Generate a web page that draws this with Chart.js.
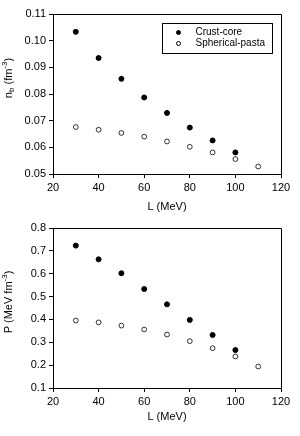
<!DOCTYPE html>
<html>
<head>
<meta charset="utf-8">
<script src="https://cdn.jsdelivr.net/npm/chart.js@4/dist/chart.umd.min.js"></script>
<style>
body { margin: 0; background: #fff; }
.panel { position: relative; width: 300px; height: 218px; }
</style>
</head>
<body>
<div class="panel"><canvas id="chartN"></canvas></div>
<div class="panel"><canvas id="chartP"></canvas></div>
<script>
// datos
var L_core = [30, 40, 50, 60, 70, 80, 90, 100];
var L_pasta = [30, 40, 50, 60, 70, 80, 90, 100, 110];
var nb_core = [0.1033, 0.0935, 0.0857, 0.0787, 0.0729, 0.0674, 0.0626, 0.0581];
var nb_pasta = [0.0676, 0.0666, 0.0654, 0.0640, 0.0622, 0.0602, 0.0581, 0.0556, 0.0528];
var P_core = [0.723, 0.663, 0.602, 0.533, 0.466, 0.398, 0.332, 0.266];
var P_pasta = [0.395, 0.387, 0.373, 0.356, 0.334, 0.305, 0.274, 0.238, 0.194];
var serieNombres = ['Crust-core', 'Spherical-pasta'];
var xTitulo = 'L (MeV)';

var fuente = 'Liberation Sans, Arial, sans-serif';

function puntos(xs, ys) {
    var d = [];
    for (var i = 0; i < xs.length; i++) {
        d.push({ x: xs[i], y: ys[i] });
    }
    return d;
}

// marco, titulo del eje y y leyenda
var dibujoPlugin = {
    id: 'dibujo',
    afterDraw: function(chart) {
        var a = chart.chartArea;
        var ctx = chart.ctx;
        var op = chart.options.plugins.dibujo;
        ctx.save();
        ctx.strokeStyle = '#000';
        ctx.lineWidth = 1;
        ctx.beginPath();
        ctx.moveTo(a.left, Math.round(a.top) + 0.5);
        ctx.lineTo(Math.round(a.right) + 0.5, Math.round(a.top) + 0.5);
        ctx.lineTo(Math.round(a.right) + 0.5, a.bottom);
        ctx.stroke();

        // titulo y con subindice / superindice
        var partes = op.titulo;
        ctx.translate(op.tx, op.ty);
        ctx.rotate(-Math.PI / 2);
        ctx.fillStyle = '#000';
        ctx.textBaseline = 'middle';
        ctx.textAlign = 'left';
        var total = 0;
        for (var i = 0; i < partes.length; i++) {
            ctx.font = (partes[i].s == 0 ? '11px ' : '8px ') + fuente;
            partes[i].w = ctx.measureText(partes[i].t).width;
            total += partes[i].w;
        }
        var x = -total / 2;
        for (var i = 0; i < partes.length; i++) {
            ctx.font = (partes[i].s == 0 ? '11px ' : '8px ') + fuente;
            var dy = partes[i].s == 1 ? -4 : (partes[i].s == -1 ? 3 : 0);
            ctx.fillText(partes[i].t, x, dy);
            x += partes[i].w;
        }
        ctx.restore();

        if (op.leyenda) {
            ctx.save();
            var bx = Math.round(a.right) - 118.5;
            var by = Math.round(a.top) + 9.5;
            ctx.strokeStyle = '#000';
            ctx.lineWidth = 1;
            ctx.strokeRect(bx, by, 110, 30);
            ctx.font = '10px ' + fuente;
            ctx.textBaseline = 'middle';
            ctx.fillStyle = '#000';
            for (var j = 0; j < chart.data.datasets.length; j++) {
                var ds = chart.data.datasets[j];
                var cy = by + 9 + j * 11;
                ctx.beginPath();
                ctx.arc(bx + 16, cy, 2, 0, Math.PI * 2);
                ctx.fillStyle = ds.pointBackgroundColor;
                ctx.fill();
                ctx.strokeStyle = '#000';
                ctx.stroke();
                ctx.fillStyle = '#000';
                ctx.fillText(ds.label, bx + 33, cy);
            }
            ctx.restore();
        }
    }
};

function crearGrafica(id, core, pasta, yMin, yMax, yPaso, dec, titulo, ty, leyenda, arriba, altoX, padTitulo) {
    var ctx = document.getElementById(id);
    return new Chart(ctx, {
        type: 'scatter',
        data: {
            datasets: [{
                label: serieNombres[0],
                data: puntos(L_core, core),
                pointRadius: 2.5,
                pointBackgroundColor: '#000',
                pointBorderColor: '#000',
                pointBorderWidth: 1
            }, {
                label: serieNombres[1],
                data: puntos(L_pasta, pasta),
                pointRadius: 2.4,
                pointBackgroundColor: '#fff',
                pointBorderColor: '#000',
                pointBorderWidth: 0.8
            }]
        },
        options: {
            responsive: true,
            maintainAspectRatio: false,
            animation: false,
            layout: { padding: { left: 0, right: 19, top: arriba, bottom: 0 } },
            plugins: {
                legend: { display: false },
                tooltip: { enabled: false },
                dibujo: { titulo: titulo, tx: 9, ty: ty, leyenda: leyenda }
            },
            scales: {
                x: {
                    type: 'linear',
                    min: 20,
                    max: 120,
                    ticks: {
                        stepSize: 20,
                        color: '#000',
                        font: { family: fuente, size: 11 },
                        padding: 3
                    },
                    grid: { drawOnChartArea: false, drawTicks: true, tickLength: 4, color: '#000' },
                    border: { color: '#000', width: 1 },
                    title: {
                        display: true,
                        text: xTitulo,
                        color: '#000',
                        font: { family: fuente, size: 11 },
                        padding: { top: 6, bottom: padTitulo }
                    },
                    afterFit: function(scale) { scale.height = altoX; }
                },
                y: {
                    type: 'linear',
                    min: yMin,
                    max: yMax,
                    ticks: {
                        stepSize: yPaso,
                        color: '#000',
                        font: { family: fuente, size: 11 },
                        padding: 3,
                        callback: function(v) { return v.toFixed(dec); }
                    },
                    grid: { drawOnChartArea: false, drawTicks: true, tickLength: 4, color: '#000' },
                    border: { color: '#000', width: 1 },
                    afterFit: function(scale) { scale.width = 53; }
                }
            }
        },
        plugins: [dibujoPlugin]
    });
}

crearGrafica('chartN', nb_core, nb_pasta, 0.05, 0.11, 0.01, 2,
    [{ t: 'n', s: 0 }, { t: 'b', s: -1 }, { t: ' (fm', s: 0 }, { t: '-3', s: 1 }, { t: ')', s: 0 }],
    78, true, 14, 44, 4);
crearGrafica('chartP', P_core, P_pasta, 0.1, 0.8, 0.1, 1,
    [{ t: 'P (MeV fm', s: 0 }, { t: '-3', s: 1 }, { t: ')', s: 0 }],
    84, false, 10, 48, 12);
</script>
</body>
</html>
